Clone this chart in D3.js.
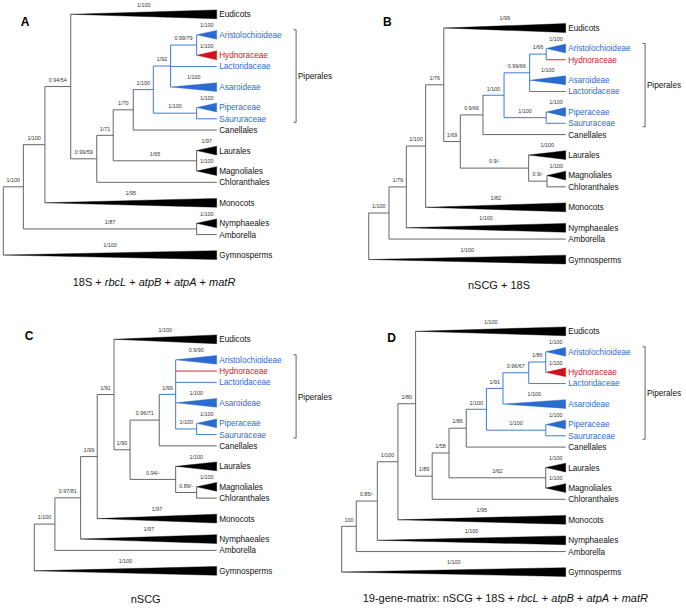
<!DOCTYPE html>
<html><head><meta charset="utf-8">
<script src="https://cdn.jsdelivr.net/npm/d3@7"></script>
<style>html,body{margin:0;padding:0;background:#fff;} svg{display:block;}</style>
</head><body>
<svg id="chart" width="686" height="608"></svg>
<script>
// ---------------- DATA ----------------
// leaves (top-to-bottom order): [name, parent node, support, shape, group]
const leavesA = [
  ["Eudicots","n3","1/100","tri",""],
  ["Aristolochioideae","ah","1/100","tri","pip"],
  ["Hydnoraceae","ah","1/100","tri","hyd"],
  ["Lactoridaceae","n8","","line","pip"],
  ["Asaroideae","n8","1/100","tri","pip"],
  ["Piperaceae","ps","1/100","tri","pip"],
  ["Saururaceae","ps","","line","pip"],
  ["Canellales","n6","","line",""],
  ["Laurales","lm","1/97","tri",""],
  ["Magnoliales","lm","1/100","tri",""],
  ["Chloranthales","n4","","line",""],
  ["Monocots","n2","1/95","tri",""],
  ["Nymphaeales","na","1/100","tri",""],
  ["Amborella","na","","line",""],
  ["Gymnosperms","root","1/100","tri",""]
];
// internal nodes: [id, parent, depth (0 = root, 100 = tips), support]
const nodesA = [
  ["root","",0,""],
  ["n1","root",9.4,"1/100"],
  ["n2","n1",19.5,"1/100"],
  ["n3","n2",31.6,"0.94/54"],
  ["n4","n3",43.8,"0.99/59"],
  ["n5","n4",51.5,"1/71"],
  ["n6","n5",60.9,"1/70"],
  ["n7","n6",70.3,"1/100"],
  ["n8","n7",78.4,"1/92"],
  ["ah","n8",90.6,"0.99/79"],
  ["ps","n7",90.6,"1/100"],
  ["lm","n5",90.6,"1/65"],
  ["na","n1",90.6,"1/87"]
];

const leavesB = [
  ["Eudicots","n4","1/99","tri",""],
  ["Aristolochioideae","ah","1/100","tri","pip"],
  ["Hydnoraceae","ah","","line","hyd"],
  ["Asaroideae","n8","1/100","tri","pip"],
  ["Lactoridaceae","n8","","line","pip"],
  ["Piperaceae","ps","1/100","tri","pip"],
  ["Saururaceae","ps","","line","pip"],
  ["Canellales","n6","","line",""],
  ["Laurales","lmc","1/100","tri",""],
  ["Magnoliales","mc","1/100","tri",""],
  ["Chloranthales","mc","","line",""],
  ["Monocots","n3","1/82","tri",""],
  ["Nymphaeales","n2","1/100","tri",""],
  ["Amborella","n1","","line",""],
  ["Gymnosperms","root","1/100","tri",""]
];
const nodesB = [
  ["root","",0,""],
  ["n1","root",10.3,"1/100"],
  ["n2","n1",19.1,"1/79"],
  ["n3","n2",28.9,"1/100"],
  ["n4","n3",38.1,"1/76"],
  ["n5","n4",46.5,"1/69"],
  ["n6","n5",58.0,"0.9/66"],
  ["n7","n6",68.7,"1/100"],
  ["n8","n7",81.7,"0.99/66"],
  ["ah","n8",90.1,"1/66"],
  ["ps","n7",90.1,"1/100"],
  ["lmc","n5",81.2,"0.9/-"],
  ["mc","lmc",90.5,"0.9/-"]
];

const leavesC = [
  ["Eudicots","n4","1/100","tri",""],
  ["Aristolochioideae","n7","0.9/90","tri","pip"],
  ["Hydnoraceae","n7","","line","hyd"],
  ["Lactoridaceae","n7","","line","pip"],
  ["Asaroideae","n7","1/100","tri","pip"],
  ["Piperaceae","ps","1/100","tri","pip"],
  ["Saururaceae","ps","","line","pip"],
  ["Canellales","n6","","line",""],
  ["Laurales","lmc","1/100","tri",""],
  ["Magnoliales","mc","1/100","tri",""],
  ["Chloranthales","mc","","line",""],
  ["Monocots","n3","1/97","tri",""],
  ["Nymphaeales","n2","1/97","tri",""],
  ["Amborella","n1","","line",""],
  ["Gymnosperms","root","1/100","tri",""]
];
const nodesC = [
  ["root","",0,""],
  ["n1","root",11.3,"1/100"],
  ["n2","n1",25.4,"0.97/81"],
  ["n3","n2",34.5,"1/99"],
  ["n4","n3",43.7,"1/91"],
  ["n5","n4",52.5,"1/90"],
  ["n6","n5",68.5,"0.96/71"],
  ["n7","n6",77.5,"1/99"],
  ["ps","n7",89.0,"1/100"],
  ["lmc","n5",77.5,"0.94/-"],
  ["mc","lmc",89.0,"0.89/-"]
];

const leavesD = [
  ["Eudicots","n4","1/100","tri",""],
  ["Aristolochioideae","ah","1/100","tri","pip"],
  ["Hydnoraceae","ah","1/100","tri","hyd"],
  ["Lactoridaceae","n10","","line","pip"],
  ["Asaroideae","n9","1/100","tri","pip"],
  ["Piperaceae","ps","1/100","tri","pip"],
  ["Saururaceae","ps","","line","pip"],
  ["Canellales","n7","","line",""],
  ["Laurales","lm","1/100","tri",""],
  ["Magnoliales","lm","1/100","tri",""],
  ["Chloranthales","n5","","line",""],
  ["Monocots","n3","1/95","tri",""],
  ["Nymphaeales","n2","1/100","tri",""],
  ["Amborella","n1","","line",""],
  ["Gymnosperms","root","1/100","tri",""]
];
const nodesD = [
  ["root","",0,""],
  ["n1","root",6.5,"100"],
  ["n2","n1",15.9,"0.85/-"],
  ["n3","n2",25.1,"1/100"],
  ["n4","n3",33.0,"1/80"],
  ["n5","n4",40.4,"1/89"],
  ["n6","n5",47.9,"1/58"],
  ["n7","n6",55.6,"1/86"],
  ["n8","n7",64.6,"1/100"],
  ["n9","n8",72.0,"1/91"],
  ["n10","n9",83.5,"0.96/67"],
  ["ah","n10",91.1,"1/86"],
  ["ps","n8",91.1,"1/100"],
  ["lm","n6",91.1,"1/62"]
];

// captions: [text, italic]
const captionA = [["18S + ",0],["rbcL",1],[" + ",0],["atpB",1],[" + ",0],["atpA",1],[" + ",0],["matR",1]];
const captionB = [["nSCG + 18S",0]];
const captionC = [["nSCG",0]];
const captionD = [["19-gene-matrix: nSCG + 18S + ",0],["rbcL",1],[" + ",0],["atpB",1],[" + ",0],["atpA",1],[" + ",0],["matR",1]];
const panelLetters = ["A","B","C","D"];
const cladeLabel = "Piperales";

// ---------------- STYLE / LAYOUT ----------------
const FONT = "'Liberation Sans', Arial, Helvetica, sans-serif";
const BLUE = "#2b6bd0", RED = "#d0121e", LINE = "#555", BLACK = "#000";
const UNIT = 11.28, TRI_STEP = 1.816, TRI_H = 4.4;

const panels = [
  {letter:0, leaves:leavesA, nodes:nodesA, caption:captionA, rootX:3.3, tipX:216.7, topY:14.3, lx:25, ly:26, cx:154, cy:285.5},
  {letter:1, leaves:leavesB, nodes:nodesB, caption:captionB, rootX:368.7, tipX:565.7, topY:28, lx:387.3, ly:25.6, cx:499, cy:289},
  {letter:2, leaves:leavesC, nodes:nodesC, caption:captionC, rootX:34.3, tipX:216.7, topY:339.3, lx:29, ly:340.3, cx:145.7, cy:603},
  {letter:3, leaves:leavesD, nodes:nodesD, caption:captionD, rootX:341.7, tipX:565.7, topY:331.3, lx:391.7, ly:341.6, cx:505.3, cy:602}
];

const svg = d3.select("#chart");

function drawPanel(cfg) {
  const g = svg.append("g");
  const rows = cfg.nodes.map(([id,parent,depth,support]) => ({id, parent, depth, support, leaf:false}))
    .concat(cfg.leaves.map(([name,parent,support,shape,group],i) =>
      ({id:name, parent, depth:100, support, shape, group, leaf:true, order:i})));
  const root = d3.stratify().id(d => d.id).parentId(d => d.parent ? d.parent : null)(rows);

  // cumulative vertical units of leaves
  const pos = [];
  let u = 0;
  cfg.leaves.forEach((l, i) => { if (i > 0) u += (l[3] === "tri" ? TRI_STEP : 1); pos.push(u); });
  const y = d3.scaleLinear().domain([0, 1]).range([cfg.topY, cfg.topY + UNIT]);
  const x = d3.scaleLinear().domain([0, 100]).range([cfg.rootX, cfg.tipX]);

  root.eachAfter(n => {
    n.x = x(n.data.depth);
    if (n.data.leaf) {
      n.y = y(pos[n.data.order]);
      n.pip = n.data.group !== "";
    } else {
      const ys = n.children.map(c => c.y);
      n.y = (d3.min(ys) + d3.max(ys)) / 2;
      n.pip = n.children.every(c => c.pip);
    }
  });
  const col = n => (n.data.leaf && n.data.group === "hyd") ? RED : (n.pip ? BLUE : LINE);
  const fillCol = n => (n.data.group === "hyd") ? RED : (n.pip ? BLUE : BLACK);

  const all = root.descendants();
  const internals = all.filter(n => n.children);
  const nonRoot = all.filter(n => n.parent);

  // vertical connectors
  g.selectAll("line.v").data(internals).join("line")
    .attr("x1", n => n.x).attr("x2", n => n.x)
    .attr("y1", n => d3.min(n.children, c => c.y)).attr("y2", n => d3.max(n.children, c => c.y))
    .attr("stroke", col).attr("stroke-width", 0.9);

  // horizontal branches (lines)
  g.selectAll("line.h").data(nonRoot.filter(n => !(n.data.leaf && n.data.shape === "tri"))).join("line")
    .attr("x1", n => n.parent.x).attr("x2", n => n.x)
    .attr("y1", n => n.y).attr("y2", n => n.y)
    .attr("stroke", col).attr("stroke-width", 0.9);

  // collapsed clades (triangles)
  g.selectAll("path.tri").data(nonRoot.filter(n => n.data.leaf && n.data.shape === "tri")).join("path")
    .attr("d", n => `M${n.parent.x},${n.y}L${n.x},${n.y - TRI_H}L${n.x},${n.y + TRI_H}Z`)
    .attr("fill", fillCol).attr("stroke", fillCol).attr("stroke-width", 0.4).attr("stroke-linejoin", "round");

  // support values
  g.selectAll("text.s").data(nonRoot.filter(n => n.data.support)).join("text")
    .attr("x", n => (n.parent.x + n.x) / 2)
    .attr("y", n => (n.data.leaf && n.data.shape === "tri") ? n.y - TRI_H - 3.35 : n.y - 4.7)
    .attr("text-anchor", "middle")
    .attr("font-family", FONT).attr("font-size", 5.4).attr("fill", "#333")
    .text(n => n.data.support);

  // leaf labels
  const leaves = root.leaves();
  g.selectAll("text.l").data(leaves).join("text")
    .attr("x", cfg.tipX + 2.5).attr("y", n => n.y + 2.95)
    .attr("font-family", FONT).attr("font-size", 8.2)
    .attr("fill", n => n.data.group === "hyd" ? RED : (n.pip ? BLUE : "#111"))
    .text(n => n.id);

  // Piperales bracket
  const pipY = leaves.filter(n => n.pip).map(n => n.y);
  const b0 = d3.min(pipY) - 5, b1 = d3.max(pipY) + 3.5, bx = cfg.tipX + 79.4;
  g.append("path")
    .attr("d", `M${bx - 2.6},${b0}H${bx}V${b1}H${bx - 2.6}`)
    .attr("fill", "none").attr("stroke", LINE).attr("stroke-width", 0.9);
  g.append("text").attr("x", bx + 1.8).attr("y", (b0 + b1) / 2 + 3.2)
    .attr("font-family", FONT).attr("font-size", 8.2).attr("fill", "#111")
    .text(cladeLabel);

  // panel letter
  g.append("text").attr("x", cfg.lx).attr("y", cfg.ly).attr("text-anchor", "middle")
    .attr("font-family", FONT).attr("font-size", 12).attr("font-weight", "bold").attr("fill", "#000")
    .text(panelLetters[cfg.letter]);

  // caption
  const t = g.append("text").attr("x", cfg.cx).attr("y", cfg.cy).attr("text-anchor", "middle")
    .attr("font-family", FONT).attr("font-size", 11).attr("fill", "#111")
    .style("white-space", "pre");
  t.selectAll("tspan").data(cfg.caption).join("tspan")
    .attr("font-style", d => d[1] ? "italic" : "normal")
    .text(d => d[0]);
}

panels.forEach(drawPanel);
</script>
</body></html>
